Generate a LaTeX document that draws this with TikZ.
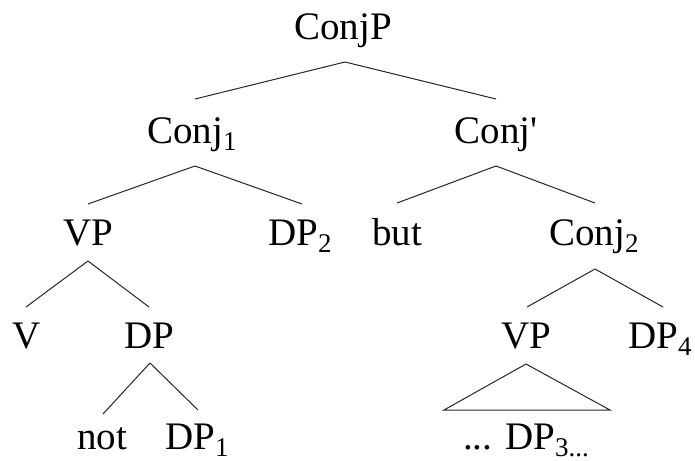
\documentclass[tikz,border=0pt]{standalone}
\usepackage{fontspec}
\setmainfont{Liberation Serif}[Ligatures=TeXOff]
\newcommand{\lowsub}[1]{\raisebox{-7pt}{\fontsize{27}{27}\selectfont #1}}
\tikzset{
  lab/.style={inner sep=0pt, outer sep=0pt, anchor=base, font=\fontsize{39}{39}\selectfont},
  branch/.style={draw=black!85, line width=1pt}
}
\begin{document}
\begin{tikzpicture}[x=1pt, y=-1pt]
\useasboundingbox (0,0) rectangle (695,460);
% nodes
\node[lab] (ConjP) at (343,40) {ConjP};
\node[lab] (Conj1) at (192,143) {Conj\lowsub{1}};
\node[lab] (Conjb) at (496,143) {Conj'};
\node[lab] (VPa) at (88,245) {VP};
\node[lab] (DPb) at (300,245) {DP\lowsub{2}};
\node[lab] (but) at (397,245) {but};
\node[lab] (Conj2) at (594,245) {Conj\lowsub{2}};
\node[lab] (V) at (27,348) {V};
\node[lab] (DP) at (149,348) {DP};
\node[lab] (VPb) at (526,348) {VP};
\node[lab] (DPd) at (660,348) {DP\lowsub{4}};
\node[lab] (not) at (102,449) {not};
\node[lab] (DPa) at (197,449) {DP\lowsub{1}};
\node[lab] (DPc) at (526,449) {... DP\lowsub{3...}};
% branches
\draw[branch] ([shift={(2,22)}]ConjP.base) -- ([shift={(3,-44)}]Conj1.base);
\draw[branch] ([shift={(2,22)}]ConjP.base) -- ([shift={(0,-44)}]Conjb.base);
\draw[branch] ([shift={(3,23)}]Conj1.base) -- ([shift={(0,-41)}]VPa.base);
\draw[branch] ([shift={(3,23)}]Conj1.base) -- ([shift={(2,-41)}]DPb.base);
\draw[branch] ([shift={(0,23)}]Conjb.base) -- ([shift={(0,-42)}]but.base);
\draw[branch] ([shift={(0,23)}]Conjb.base) -- ([shift={(1,-42)}]Conj2.base);
\draw[branch] ([shift={(0,16)}]VPa.base) -- ([shift={(-1,-41)}]V.base);
\draw[branch] ([shift={(0,16)}]VPa.base) -- ([shift={(0,-41)}]DP.base);
\draw[branch] ([shift={(1,24)}]Conj2.base) -- ([shift={(1,-41)}]VPb.base);
\draw[branch] ([shift={(1,24)}]Conj2.base) -- ([shift={(3,-41)}]DPd.base);
\draw[branch] ([shift={(1,15)}]DP.base) -- ([shift={(1,-35)}]not.base);
\draw[branch] ([shift={(1,15)}]DP.base) -- ([shift={(1,-39)}]DPa.base);
\draw[branch, line join=miter] ([shift={(0,16)}]VPb.base) -- ([shift={(-82,-39)}]DPc.base) -- ([shift={(84,-39)}]DPc.base) -- cycle;
\end{tikzpicture}
\end{document}
